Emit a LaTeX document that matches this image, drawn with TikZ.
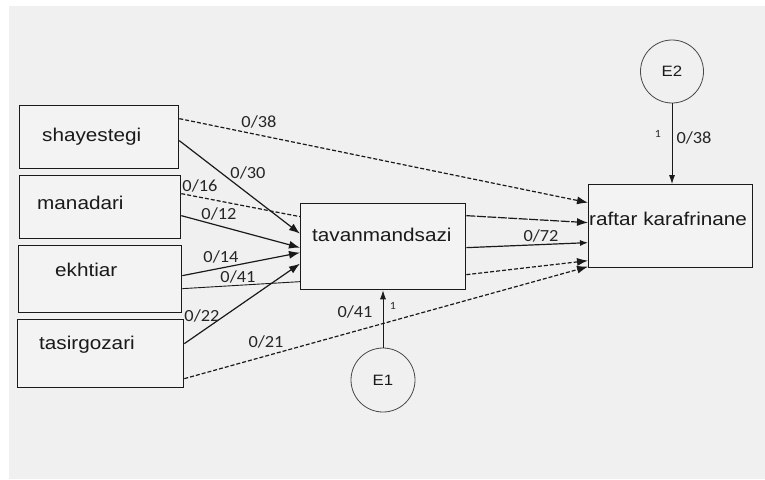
\documentclass[tikz,border=0pt]{standalone}
\usepackage{fontspec}
\setmainfont{Liberation Sans}[FakeStretch=1.12]
\newfontfamily\lblfont{Carlito}[FakeStretch=1.08]
\usetikzlibrary{arrows.meta,calc}
\definecolor{bg}{HTML}{F0F0F0}
\definecolor{boxfill}{HTML}{F3F3F3}
\definecolor{ink}{HTML}{1A1A1A}
\definecolor{lblink}{HTML}{262626}
\tikzset{
  box/.style={draw=ink, line width=1.3pt, fill=boxfill, anchor=north west, inner sep=0pt},
  boxtext/.style={anchor=west, inner sep=0pt, text=ink, font=\fontsize{18.5}{20}\selectfont},
  err/.style={circle, draw=ink!80, line width=0.8pt, fill=bg, inner sep=0pt, minimum size=63pt, text=ink, font=\fontsize{15}{17}\selectfont},
  lbl/.style={inner sep=0pt, text=lblink, font=\lblfont\fontsize{17}{19}\selectfont},
  tiny/.style={inner sep=0pt, text=lblink, font=\lblfont\fontsize{11}{12}\selectfont},
  con/.style={draw=ink, line width=1.2pt},
  arr/.style={con, -{Latex[length=11pt,width=8pt]}},
  sarr/.style={con, -{Latex[length=8pt,width=6pt]}},
  varr/.style={draw=ink, line width=0.8pt, -{Latex[length=9pt,width=6pt]}},
  dsh/.style={dash pattern=on 4pt off 2pt},
  ldsh/.style={dash pattern=on 9pt off 1.5pt}
}
\begin{document}
\begin{tikzpicture}[x=1pt,y=-1pt]
\useasboundingbox (0,0) rectangle (765,479);
\fill[white] (0,0) rectangle (765,479);
\fill[bg] (9,6) rectangle (765,479);

% boxes
\node[box, minimum width=159pt, minimum height=63pt] (sh) at (19,105) {};
\node[box, minimum width=161pt, minimum height=63pt] (ma) at (19,175) {};
\node[box, minimum width=163pt, minimum height=67pt] (ek) at (18,245) {};
\node[box, minimum width=166pt, minimum height=68pt] (ta) at (17,319) {};
\node[box, minimum width=165pt, minimum height=86pt] (tv) at (300,203) {};
\node[box, minimum width=164pt, minimum height=83pt] (rk) at (588,184) {};

\node[boxtext] (tsh) at (42,137) {shayestegi};
\node[boxtext] (tma) at (37,203) {manadari};
\node[boxtext] (tek) at (55,270) {ekhtiar};
\node[boxtext] (tta) at (39,345) {tasirgozari};
\node[boxtext] (ttv) at (312,235) {tavanmandsazi};
\node[boxtext] (trk) at (589,219) {raftar karafrinane};

% error terms
\node[err] (E2) at (672,71.5) {E2};
\node[err, minimum size=64pt] (E1) at (383,380) {E1};

% connectors into tavanmandsazi
\draw[arr] ([yshift=-3.5pt]sh.east) -- ([yshift=13pt]tv.west);
\draw[con,dsh] ([yshift=13.5pt]ma.east) -- ([yshift=30pt]tv.west);
\draw[arr] ([yshift=-8.5pt]ma.east) -- ([yshift=-1pt]tv.west);
\draw[arr] ([yshift=3.5pt]ek.east) -- ([yshift=-6pt]tv.west);
\draw[con, line width=0.9pt] ([yshift=-9.5pt]ek.east) -- ([yshift=-35pt]tv.west);
\draw[arr] ([yshift=10pt]ta.east) -- ([yshift=-17pt]tv.west);

% connectors into raftar karafrinane
\draw[arr,dsh] ([yshift=18.5pt]sh.east) -- ([yshift=23.5pt]rk.west);
\draw[arr,dsh] ([yshift=-25pt]ta.east) -- ([yshift=-40.5pt]rk.west);
\draw[arr,ldsh] ([yshift=31pt]tv.east) -- ([yshift=3.5pt]rk.west);
\draw[sarr] ([yshift=-1pt]tv.east) -- ([yshift=-16.5pt]rk.west);
\draw[arr,dsh] ([yshift=-28pt]tv.east) -- ([yshift=-34.5pt]rk.west);

% error arrows
\draw[varr] (E2.south) -- (E2.south |- rk.north);
\draw[varr] (E1.north) -- (E1.north |- tv.south);

% labels
\node[lbl] (l1) at (259,122) {0/38};
\node[lbl] (l2) at (248,173) {0/30};
\node[lbl] (l3) at (200,186) {0/16};
\node[lbl] (l4) at (219,214) {0/12};
\node[lbl] (l5) at (221,257) {0/14};
\node[lbl] (l6) at (238,277) {0/41};
\node[lbl] (l7) at (202,316) {0/22};
\node[lbl] (l8) at (266,342) {0/21};
\node[lbl] (l9) at (355,312) {0/41};
\node[tiny] (l10) at (393,306) {1};
\node[lbl] (l11) at (541,236) {0/72};
\node[tiny] (l12) at (658,134) {1};
\node[lbl] (l13) at (694,138) {0/38};
\end{tikzpicture}
\end{document}
